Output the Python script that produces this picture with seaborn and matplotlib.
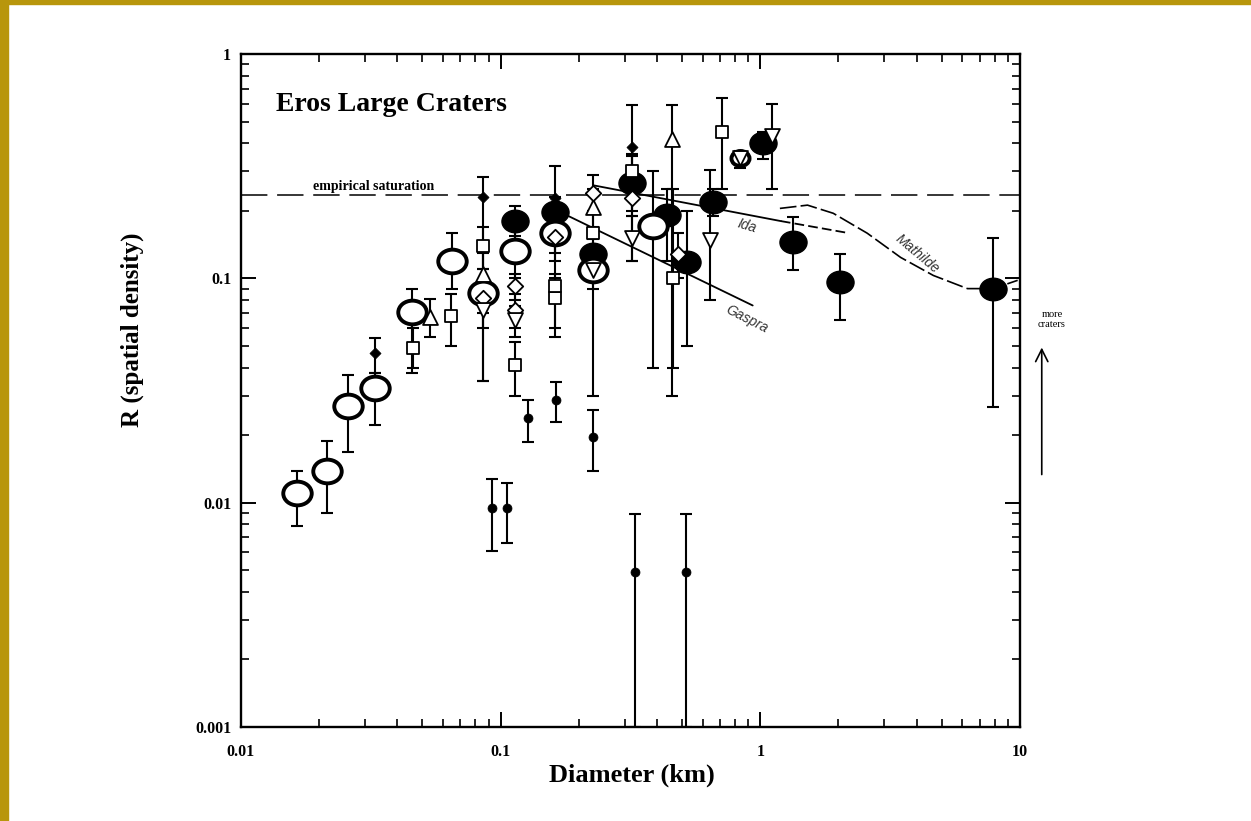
import numpy as np
import matplotlib
matplotlib.use("Agg")
import matplotlib.pyplot as plt
import seaborn as sns
from matplotlib.path import Path
from matplotlib.patches import Rectangle
from matplotlib.ticker import LogLocator, NullFormatter

# big open circles (Eros counts)
open_x = [0.0164, 0.0214, 0.0259, 0.0328, 0.0457, 0.065, 0.0857, 0.114, 0.162, 0.227, 0.387]
open_y = [0.011, 0.0139, 0.0271, 0.0323, 0.0705, 0.12, 0.0857, 0.133, 0.16, 0.109, 0.172]
open_lo = [0.0079, 0.009, 0.0169, 0.0221, 0.038, 0.09, 0.035, 0.10, 0.12, 0.03, 0.04]
open_hi = [0.0139, 0.0189, 0.0369, 0.038, 0.090, 0.16, 0.11, 0.17, 0.21, 0.14, 0.30]

# big filled circles
fill_x = [0.114, 0.162, 0.227, 0.321, 0.438, 0.523, 0.659, 1.028, 1.34, 2.03, 7.9]
fill_y = [0.181, 0.197, 0.129, 0.265, 0.191, 0.118, 0.218, 0.40, 0.145, 0.096, 0.09]
fill_lo = [0.155, 0.17, 0.11, 0.20, 0.12, 0.05, 0.19, 0.34, 0.109, 0.065, 0.0268]
fill_hi = [0.21, 0.23, 0.15, 0.35, 0.25, 0.20, 0.25, 0.45, 0.187, 0.129, 0.152]

# thick ring at ~0.84 km
ring_x = [0.837]
ring_y = [0.343]

# small filled dots
dot_x = [0.0928, 0.106, 0.1276, 0.1637, 0.227, 0.33, 0.519]
dot_y = [0.0095, 0.0095, 0.0239, 0.0288, 0.0197, 0.0049, 0.0049]
dot_lo = [0.0061, 0.0066, 0.0187, 0.0228, 0.0138, 0.001, 0.001]
dot_hi = [0.0128, 0.0123, 0.0288, 0.0344, 0.0258, 0.0089, 0.0089]

# small filled diamonds
fdia_x = [0.0328, 0.0857, 0.162, 0.321]
fdia_y = [0.0463, 0.23, 0.227, 0.384]
fdia_lo = [0.038, 0.035, 0.055, 0.12]
fdia_hi = [0.054, 0.282, 0.316, 0.59]

# open squares
sq_x = [0.046, 0.0644, 0.0857, 0.114, 0.162, 0.162, 0.227, 0.321, 0.462, 0.714]
sq_y = [0.049, 0.068, 0.14, 0.0409, 0.082, 0.092, 0.16, 0.30, 0.10, 0.449]
sq_lo = [0.04, 0.0497, 0.11, 0.030, 0.06, 0.08, 0.12, 0.24, 0.04, 0.25]
sq_hi = [0.06, 0.085, 0.17, 0.0518, 0.10, 0.105, 0.20, 0.36, 0.25, 0.64]

# open triangles (up)
tri_x = [0.0535, 0.0857, 0.227, 0.458]
tri_y = [0.067, 0.105, 0.207, 0.42]
tri_lo = [0.0546, 0.08, 0.17, 0.03]
tri_hi = [0.0805, 0.13, 0.25, 0.59]

# open diamonds
dia_x = [0.0857, 0.114, 0.114, 0.162, 0.227, 0.321, 0.483]
dia_y = [0.082, 0.092, 0.072, 0.153, 0.24, 0.227, 0.129]
dia_lo = [0.07, 0.08, 0.06, 0.13, 0.20, 0.19, 0.10]
dia_hi = [0.095, 0.105, 0.085, 0.18, 0.29, 0.27, 0.16]

# open triangles (down)
tdn_x = [0.0857, 0.114, 0.227, 0.321, 0.642, 0.837, 1.11]
tdn_y = [0.072, 0.065, 0.109, 0.152, 0.148, 0.343, 0.43]
tdn_lo = [0.06, 0.055, 0.09, 0.12, 0.08, 0.31, 0.25]
tdn_hi = [0.085, 0.075, 0.13, 0.19, 0.303, 0.37, 0.60]

# reference curves
saturation = 0.235
ida_x = [0.227, 1.2]
ida_y = [0.26, 0.18]
ida_dash_x = [1.2, 2.2]
ida_dash_y = [0.18, 0.159]
gaspra_x = [0.180, 0.935]
gaspra_y = [0.191, 0.0757]
mathilde_x = [1.19, 1.52, 1.91, 2.58, 3.47, 4.64, 6.28, 7.9, 9.8]
mathilde_y = [0.205, 0.212, 0.195, 0.159, 0.124, 0.103, 0.090, 0.090, 0.098]

sns.set_theme(style="ticks")
plt.rcParams['font.family'] = ['Liberation Serif', 'DejaVu Serif']
plt.rcParams['lines.scale_dashes'] = False
plt.rcParams['text.color'] = 'black'
plt.rcParams['axes.labelcolor'] = 'black'
plt.rcParams['xtick.color'] = 'black'
plt.rcParams['ytick.color'] = 'black'

fig = plt.figure(figsize=(12.51, 8.21), dpi=100)
fig.patch.set_facecolor('white')
ax = fig.add_axes([0.1926, 0.1145, 0.6227, 0.8197])
ax.set_facecolor('white')
ax.set_xscale('log')
ax.set_yscale('log')

# slightly wide ellipse marker, like the stretched original
circ = Path.unit_circle()
ell = Path(circ.vertices * np.array([1.2, 1.0]), circ.codes)


def bars(x, y, lo, hi):
    ax.errorbar(x, y, yerr=[np.subtract(y, lo), np.subtract(hi, y)], fmt='none',
                ecolor='black', elinewidth=1.5, capsize=4.5, capthick=1.5, zorder=2)


for xs, ys, lo, hi in [(open_x, open_y, open_lo, open_hi), (fill_x, fill_y, fill_lo, fill_hi),
                       (dot_x, dot_y, dot_lo, dot_hi), (fdia_x, fdia_y, fdia_lo, fdia_hi),
                       (sq_x, sq_y, sq_lo, sq_hi), (tri_x, tri_y, tri_lo, tri_hi),
                       (dia_x, dia_y, dia_lo, dia_hi), (tdn_x, tdn_y, tdn_lo, tdn_hi)]:
    bars(xs, ys, lo, hi)

# reference lines
ax.axhline(saturation, color='black', lw=1.1, dashes=(19, 7), zorder=1)
sns.lineplot(x=ida_x, y=ida_y, color='black', lw=1.3, ax=ax, sort=False, estimator=None, zorder=1)
sns.lineplot(x=ida_dash_x, y=ida_dash_y, color='black', lw=1.3, ax=ax, sort=False, estimator=None,
             zorder=1).lines[-1].set_dashes((7, 3))
sns.lineplot(x=gaspra_x, y=gaspra_y, color='black', lw=1.3, ax=ax, sort=False, estimator=None, zorder=1)
sns.lineplot(x=mathilde_x, y=mathilde_y, color='black', lw=1.2, ax=ax, sort=False, estimator=None,
             zorder=1).lines[-1].set_dashes((12, 3))

# markers
sns.scatterplot(x=fill_x, y=fill_y, marker=ell, s=380, color='black', edgecolor='black',
                linewidth=1, ax=ax, zorder=3)
sns.scatterplot(x=open_x, y=open_y, marker=ell, s=420, color='white', edgecolor='black',
                linewidth=2.8, ax=ax, zorder=4)
sns.scatterplot(x=ring_x, y=ring_y, marker=ell, s=170, color='white', edgecolor='black',
                linewidth=2.8, ax=ax, zorder=4)
sns.scatterplot(x=dot_x, y=dot_y, marker='o', s=42, color='black', edgecolor='black',
                linewidth=0.5, ax=ax, zorder=5)
sns.scatterplot(x=fdia_x, y=fdia_y, marker='D', s=32, color='black', edgecolor='black',
                linewidth=0.5, ax=ax, zorder=5)
sns.scatterplot(x=sq_x, y=sq_y, marker='s', s=85, color='white', edgecolor='black',
                linewidth=1.3, ax=ax, zorder=5)
sns.scatterplot(x=tri_x, y=tri_y, marker='^', s=115, color='white', edgecolor='black',
                linewidth=1.3, ax=ax, zorder=5)
sns.scatterplot(x=dia_x, y=dia_y, marker='D', s=62, color='white', edgecolor='black',
                linewidth=1.3, ax=ax, zorder=5)
sns.scatterplot(x=tdn_x, y=tdn_y, marker='v', s=115, color='white', edgecolor='black',
                linewidth=1.3, ax=ax, zorder=6)

# axes
ax.set_xlim(0.01, 10)
ax.set_ylim(0.001, 1)
ax.set_xticks([0.01, 0.1, 1, 10])
ax.set_xticklabels(['0.01', '0.1', '1', '10'])
ax.set_yticks([0.001, 0.01, 0.1, 1])
ax.set_yticklabels(['0.001', '0.01', '0.1', '1'])
for axis in (ax.xaxis, ax.yaxis):
    axis.set_minor_locator(LogLocator(base=10, subs=np.arange(2, 10)))
    axis.set_minor_formatter(NullFormatter())
ax.tick_params(which='both', direction='in', top=True, right=True, color='black',
               labelcolor='black')
ax.tick_params(which='major', length=11, width=1.4, labelsize=11.5)
ax.tick_params(which='minor', length=6, width=1.2)
ax.tick_params(axis='x', which='major', pad=12)
ax.tick_params(axis='y', which='major', pad=7)
for lab in ax.get_xticklabels() + ax.get_yticklabels():
    lab.set_fontweight('bold')
for sp in ax.spines.values():
    sp.set_linewidth(1.7)
    sp.set_color('black')

ax.set_xlabel('Diameter (km)', fontsize=19, fontweight='bold', color='black')
ax.xaxis.set_label_coords(0.502, -0.055)
ax.set_ylabel('R (spatial density)', fontsize=18, fontweight='bold', color='black')
ax.yaxis.set_label_coords(-0.125, 0.59)

ax.text(0.045, 0.925, 'Eros Large Craters', transform=ax.transAxes, fontsize=20,
        fontweight='bold', va='center', ha='left', color='black')
ax.text(0.0323, 0.258, 'empirical saturation', fontsize=10, fontweight='bold',
        ha='center', va='center', color='black')
ax.text(0.89, 0.172, 'Ida', fontsize=10, style='italic', color='#333333', rotation=-17,
        ha='center', va='center', family='Liberation Sans')
ax.text(0.89, 0.066, 'Gaspra', fontsize=10, style='italic', color='#333333', rotation=-27,
        ha='center', va='center', family='Liberation Sans')
ax.text(4.03, 0.129, 'Mathilde', fontsize=10, style='italic', color='#333333', rotation=-40,
        ha='center', va='center', family='Liberation Sans')

ax.text(1.041, 0.606, 'more\ncraters', transform=ax.transAxes, fontsize=7.5,
        ha='center', va='center', linespacing=1.1, color='black')
ax.annotate('', xy=(1.028, 0.568), xytext=(1.028, 0.371), xycoords='axes fraction',
            textcoords='axes fraction', annotation_clip=False,
            arrowprops=dict(arrowstyle='->', lw=1.2, color='black', mutation_scale=22))

# golden frame of the slide
fig.patches.append(Rectangle((0, 0), 8 / 1251, 1, transform=fig.transFigure,
                             color='#B8960C', zorder=0))
fig.patches.append(Rectangle((0, 1 - 4 / 821), 1, 4 / 821, transform=fig.transFigure,
                             color='#B8960C', zorder=0))

fig.savefig('out.png', dpi=100, facecolor='white')
